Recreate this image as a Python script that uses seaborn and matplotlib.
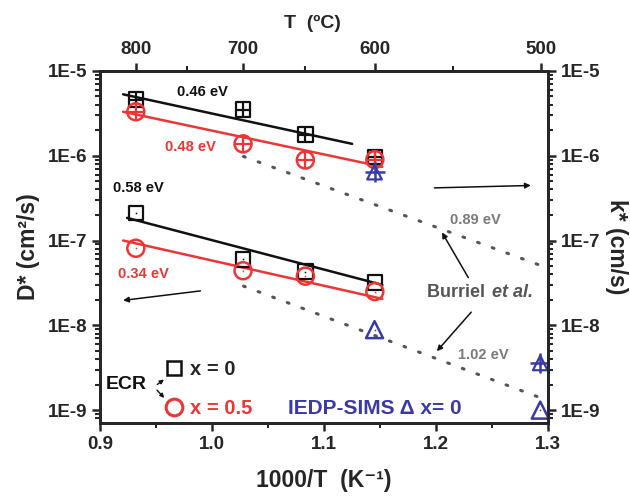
import numpy as np
import matplotlib
matplotlib.use('Agg')
import matplotlib.pyplot as plt
import seaborn as sns
from matplotlib.lines import Line2D
from matplotlib.ticker import FuncFormatter, NullFormatter, FixedLocator

sns.set_style('ticks')
plt.rcParams['font.family'] = ['Liberation Sans', 'DejaVu Sans']
plt.rcParams['font.weight'] = 'bold'

BLACK = '#111111'
RED = '#ee3535'
BLUE = '#3a3aa6'
GRAY = '#7a7a7a'

# temperaturas das medidas ECR (C) -> 1000/T
temps_c = [800, 700, 650, 600]
x_ecr = [1000 / (t + 273.15) for t in temps_c]

# valores
k_x0 = [4.6e-6, 3.5e-6, 1.77e-6, 9.7e-7]
k_x05 = [3.3e-6, 1.38e-6, 8.9e-7, 9.0e-7]
d_x0 = [2.1e-7, 6.0e-8, 4.3e-8, 3.2e-8]
d_x05 = [8.1e-8, 4.4e-8, 3.8e-8, 2.5e-8]

# IEDP-SIMS (x = 0)
x_iedp = [1.145, 1.293]
k_iedp = [6.4e-7, 3.6e-9]
d_iedp = [8.9e-9, 1.0e-9]

# retas de Arrhenius (extremos lidos)
fit_k_x0 = ([0.9205, 1.125], [5.3e-6, 1.38e-6])
fit_k_x05 = ([0.9205, 1.152], [3.3e-6, 7.4e-7])
fit_d_x0 = ([0.924, 1.152], [1.85e-7, 3.0e-8])
fit_d_x05 = ([0.9205, 1.152], [1.0e-7, 2.05e-8])

# Burriel et al. (pontilhado)
burriel_x = [1.028, 1.293]
burriel_k = [9.8e-7, 5.1e-8]
burriel_d = [2.9e-8, 1.4e-9]

# ticks
x_ticks = [0.9, 1.0, 1.1, 1.2, 1.3]
y_ticks = [1e-9, 1e-8, 1e-7, 1e-6, 1e-5]
t_ticks = [800, 700, 600, 500]
ylim = (10 ** -9.153, 1e-5)

fig = plt.figure(figsize=(6.3, 4.96), dpi=100)
ax = fig.add_axes([0.159, 0.147, 0.711, 0.710])

# linhas de ajuste
for (fx, fy), c in [(fit_k_x0, BLACK), (fit_k_x05, RED), (fit_d_x0, BLACK), (fit_d_x05, RED)]:
    sns.lineplot(x=fx, y=fy, ax=ax, color=c, linewidth=1.8, legend=False)

for by in [burriel_k, burriel_d]:
    ax.plot(burriel_x, by, color='#555555', linewidth=2.2, linestyle=(0, (0.6, 4.5)),
            dash_capstyle='round')

# pontos k* (com cruz)
sns.scatterplot(x=x_ecr, y=k_x0, marker='s', s=110, facecolor='none', edgecolor=BLACK,
                linewidth=1.6, ax=ax, zorder=3)
sns.scatterplot(x=x_ecr, y=k_x0, marker='+', s=110, color=BLACK, linewidth=1.6, ax=ax, zorder=3)
sns.scatterplot(x=x_ecr, y=k_x05, marker='o', s=150, facecolor='none', edgecolor=RED,
                linewidth=1.8, ax=ax, zorder=4)
sns.scatterplot(x=x_ecr, y=k_x05, marker='+', s=150, color=RED, linewidth=1.6, ax=ax, zorder=4)

# pontos D* (com ponto no centro)
sns.scatterplot(x=x_ecr, y=d_x0, marker='s', s=110, facecolor='none', edgecolor=BLACK,
                linewidth=1.6, ax=ax, zorder=3)
sns.scatterplot(x=x_ecr, y=d_x0, marker='.', s=8, color=BLACK, ax=ax, zorder=3)
sns.scatterplot(x=x_ecr, y=d_x05, marker='o', s=150, facecolor='none', edgecolor=RED,
                linewidth=1.8, ax=ax, zorder=4)
sns.scatterplot(x=x_ecr, y=d_x05, marker='.', s=8, color=RED, ax=ax, zorder=4)

# IEDP-SIMS
sns.scatterplot(x=x_iedp, y=k_iedp, marker='^', s=110, facecolor='none', edgecolor=BLUE,
                linewidth=1.6, ax=ax, zorder=4)
sns.scatterplot(x=x_iedp, y=k_iedp, marker='+', s=200, color=BLUE, linewidth=1.8, ax=ax, zorder=4)
sns.scatterplot(x=x_iedp, y=d_iedp, marker='^', s=150, facecolor='none', edgecolor=BLUE,
                linewidth=1.8, ax=ax, zorder=4)
sns.scatterplot(x=x_iedp, y=d_iedp, marker='.', s=8, color=BLUE, ax=ax, zorder=4)

# ticks menores do log so dentro do intervalo visivel
minor_y = [m * 10.0 ** e for e in range(-10, -5) for m in range(2, 10)
           if ylim[0] <= m * 10.0 ** e <= ylim[1]]
sci = FuncFormatter(lambda v, p: f'1E{int(round(np.log10(v)))}')

# eixos
ax.set_yscale('log')
ax.set_xlim(0.9, 1.3)
ax.set_ylim(*ylim)
ax.set_xticks(x_ticks)
ax.xaxis.set_major_formatter(FuncFormatter(lambda v, p: f'{v:.1f}'))
ax.xaxis.set_minor_locator(FixedLocator([0.95, 1.05, 1.15, 1.25]))
ax.yaxis.set_major_locator(FixedLocator(y_ticks))
ax.yaxis.set_major_formatter(sci)
ax.yaxis.set_minor_locator(FixedLocator(minor_y))
ax.yaxis.set_minor_formatter(NullFormatter())
ax.set_xlabel('1000/T  (K⁻¹)', fontsize=16.5, fontweight='bold', labelpad=12)
ax.set_ylabel('D* (cm²/s)', fontsize=16.5, fontweight='bold', labelpad=6)

axr = ax.twinx()
axr.set_yscale('log')
axr.set_ylim(*ylim)
axr.yaxis.set_major_locator(FixedLocator(y_ticks))
axr.yaxis.set_major_formatter(sci)
axr.yaxis.set_minor_locator(FixedLocator(minor_y))
axr.yaxis.set_minor_formatter(NullFormatter())
axr.set_ylabel('k* (cm/s)', fontsize=16.5, fontweight='bold', rotation=270, labelpad=20)

axt = ax.secondary_xaxis('top', functions=(lambda x: 1000 / np.asarray(x) - 273.15,
                                            lambda t: 1000 / (np.asarray(t) + 273.15)))
axt.set_xticks(t_ticks)
axt.xaxis.set_minor_locator(FixedLocator([750, 650, 550]))
axt.set_xlabel('T  (ºC)', fontsize=14, fontweight='bold', labelpad=10)
axt.xaxis.label.set_x(0.475)

for a in [ax, axr]:
    for s in a.spines.values():
        s.set_linewidth(2)
for a in [ax, axr, axt]:
    a.tick_params(which='major', length=6, width=1.8, labelsize=13.5, direction='out', pad=3)
    a.tick_params(which='minor', length=3.5, width=1.5, direction='out')
axt.spines['top'].set_linewidth(2)

# textos de energia de ativacao
ax.text(0.991, 10 ** -5.25, '0.46 eV', color=BLACK, fontsize=10.5, ha='center', va='center')
ax.text(0.981, 10 ** -5.90, '0.48 eV', color=RED, fontsize=10.5, ha='center', va='center')
ax.text(0.934, 10 ** -6.38, '0.58 eV', color=BLACK, fontsize=10.5, ha='center', va='center')
ax.text(0.939, 10 ** -7.40, '0.34 eV', color=RED, fontsize=10.5, ha='center', va='center')
ax.text(1.235, 10 ** -6.76, '0.89 eV', color=GRAY, fontsize=10.5, ha='center', va='center')
ax.text(1.242, 10 ** -8.35, '1.02 eV', color=GRAY, fontsize=10.5, ha='center', va='center')
ax.text(1.248, 10 ** -7.61, 'Burriel ', color='#555555', fontsize=13, ha='right', va='center')
ax.text(1.250, 10 ** -7.61, 'et al.', color='#555555', fontsize=13, ha='left', va='center',
        style='italic')

arrow = dict(arrowstyle='-|>', color=BLACK, lw=1.1, mutation_scale=8)
ax.annotate('', xy=(1.287, 10 ** -6.35), xytext=(1.196, 10 ** -6.38), arrowprops=arrow)
ax.annotate('', xy=(0.918, 10 ** -7.71), xytext=(0.992, 10 ** -7.59), arrowprops=arrow)
ax.annotate('', xy=(1.204, 10 ** -6.876), xytext=(1.230, 10 ** -7.466), arrowprops=arrow)
ax.annotate('', xy=(1.199, 10 ** -8.33), xytext=(1.233, 10 ** -7.82), arrowprops=arrow)

# legenda
handles = [Line2D([], [], marker='s', ls='', mfc='none', mec=BLACK, ms=10, mew=1.8),
           Line2D([], [], marker='o', ls='', mfc='none', mec=RED, ms=12, mew=2.2)]
leg = ax.legend(handles, ['x = 0', 'x = 0.5'], loc='upper left', bbox_to_anchor=(0.140, 0.180),
                frameon=False, fontsize=14.5, labelspacing=1.0, handletextpad=0.25,
                handlelength=1.1, borderpad=0, borderaxespad=0)
leg.get_texts()[1].set_color(RED)
ax.text(0.9235, 10 ** -8.70, 'ECR', color=BLACK, fontsize=14, ha='center', va='center')
small = dict(arrowstyle='-|>', color=BLACK, lw=1.0, mutation_scale=6)
ax.annotate('', xy=(0.959, 10 ** -8.62), xytext=(0.949, 10 ** -8.717), arrowprops=small)
ax.annotate('', xy=(0.959, 10 ** -8.88), xytext=(0.949, 10 ** -8.74), arrowprops=small)
ax.text(1.068, 10 ** -8.976, 'IEDP-SIMS Δ x= 0', color=BLUE, fontsize=15, ha='left', va='center')

fig.savefig('out.png', dpi=100)
